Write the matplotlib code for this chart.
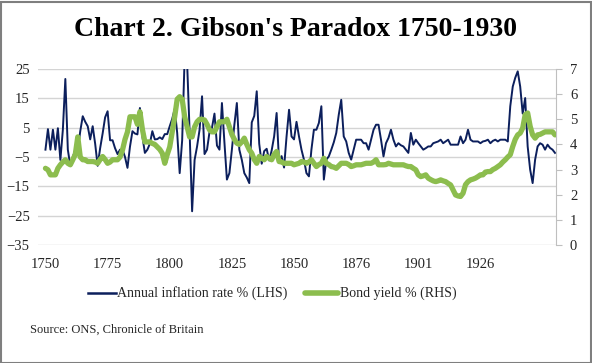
import numpy as np
import matplotlib
matplotlib.use("Agg")
import matplotlib.pyplot as plt
from matplotlib.lines import Line2D
from matplotlib.patches import Rectangle

plt.rcParams['font.family'] = ['Liberation Serif', 'DejaVu Serif']

#### Data (one value per category) ###################################
inflation = [
    -2.5, 4.5, -2.5, 4.3, -2.5, 4.8, -6, 4.3, 21.6, -2.5,
    -8, -5, -2.5, -2.5, 3.8, 8.9, 7, 5.5, 1, 5.5,
    -0.5, -8, -2, 3, 8.5, 10.6, 0.7, 0.7, -2, -4,
    -2.5, -2.5, -5, -8.7, -1.5, 3.8, 3, 2.7, 11.7, 2,
    -3.6, -2.5, -0.5, 3.8, 1, 1.1, 1.7, 1.1, 2.8, 2.8,
    5.5, 8, 11.4, 3.2, -10.5, 0.7, 29, 27, 3.5, -23.5,
    -6, -1.4, 4.3, 15.7, -4, -2.5, 3.5, 5, 9.8, -1.1,
    -2.5, 13.4, 0, -12.7, -10.5, -2.5, 6, 13.4, -2.5, -6,
    -10.5, -12, -13.9, 6.8, 9, 17.4, -0.5, -7.3, -3, -2.2,
    -6.2, -2.8, 2, 10, -7, -4.7, -8.6, 2, 11.1, 2,
    1, 7, 2, -2.5, -5.9, -10.5, -11.6, -2.5, 4.3, 4.3,
    6.6, 12.3, -12.7, -5.9, -4.8, -2.5, 0, 3.2, 9.4, 14.5,
    2, 0.3, -3.6, -5.9, -2.5, 0.9, 0.9, 0.9, -0.3, -0.3,
    -2.5, 0.9, 4.3, 6, 6, 0.9, -4.8, -0.3, 1.5, 4.3,
    0.9, -1.4, -0.3, -1, -1.4, -2.5, -3.6, 3.2, -0.8, 0.9,
    -0.3, -1.4, -2.5, -2, -1.4, -1.4, -0.3, 0, 0.3, 0.9,
    -0.3, 0.3, 0.9, -0.8, -0.8, -0.8, -0.8, 2, -0.3, 0.9,
    4.3, 0.9, 0.3, 0.3, 0.3, -0.3, 0.3, 0.5, 0.9, -0.3,
    0.5, 0.9, 0.3, 0.9, 0.9, 0.9, 0.3, 12.3, 19, 22,
    24.2, 19, 9.8, 15.1, -1.4, -9.3, -13.9, -5.9, -1.4, -0.3,
    -0.8, -2.5, -0.8, -1.9, -2.5, -3.6,
]
bond_yield = [
    3.05, 2.99, 2.79, 2.79, 2.79, 3.05, 3.19, 3.3, 3.39, 3.25,
    3.19, 3.39, 3.6, 4.3, 3.5, 3.39, 3.39, 3.32, 3.32, 3.32,
    3.3, 3.25, 3.4, 3.52, 3.4, 3.25, 3.3, 3.39, 3.39, 3.39,
    3.5, 3.78, 4.2, 4.5, 5.1, 5.1, 5.1, 4.8, 5.3, 4.6,
    4.1, 4.1, 4.1, 4.04, 4.0, 3.9, 3.8, 3.65, 3.25, 3.6,
    3.9, 4.5, 5.1, 5.8, 5.9, 5.8, 5.1, 4.7, 4.3, 4.3,
    4.7, 4.9, 5.0, 5.0, 4.97, 4.8, 4.58, 4.5, 4.5, 4.7,
    4.9, 4.9, 4.9, 5.0, 4.7, 4.4, 4.2, 4.05, 4.0, 4.1,
    4.25, 4.0, 3.79, 3.65, 3.4, 3.25, 3.52, 3.45, 3.39, 3.52,
    3.45, 3.39, 3.6, 3.72, 3.32, 3.3, 3.25, 3.25, 3.25, 3.25,
    3.19, 3.22, 3.25, 3.32, 3.3, 3.25, 3.3, 3.39, 3.25, 3.12,
    3.2, 3.25, 3.45, 3.25, 3.2, 3.12, 3.1, 3.05, 3.15, 3.25,
    3.25, 3.25, 3.2, 3.12, 3.15, 3.19, 3.19, 3.19, 3.22, 3.25,
    3.25, 3.25, 3.3, 3.39, 3.19, 3.19, 3.19, 3.2, 3.25, 3.22,
    3.19, 3.19, 3.19, 3.19, 3.19, 3.15, 3.12, 3.12, 3.05, 2.99,
    2.79, 2.72, 2.75, 2.79, 2.66, 2.6, 2.55, 2.52, 2.55, 2.59,
    2.55, 2.52, 2.45, 2.39, 2.19, 1.99, 1.95, 1.93, 2.06, 2.4,
    2.52, 2.59, 2.62, 2.66, 2.72, 2.79, 2.79, 2.9, 2.92, 2.92,
    3.0, 3.05, 3.12, 3.19, 3.3, 3.39, 3.5, 3.59, 3.92, 4.2,
    4.38, 4.45, 4.65, 5.18, 5.25, 4.72, 4.38, 4.25, 4.38, 4.4,
    4.45, 4.5, 4.5, 4.5, 4.5, 4.38,
]
year_labels = ['1750', '1775', '1800', '1825', '1850', '1876', '1901', '1926']
label_step = 25
left_ticks = [-35, -25, -15, -5, 5, 15, 25]
right_ticks = [0, 1, 2, 3, 4, 5, 6, 7]
######################################################################

navy = '#0c1f5c'
green = '#8cbd4e'
grid = '#d4d4d4'
txt = '#262626'

W, H = 592, 363
fig = plt.figure(figsize=(W/100, H/100), dpi=100)
fig.patch.set_facecolor('white')
fig.patches.append(Rectangle((0.5/W, 0.5/H), 1-2/W, 1-2/H, transform=fig.transFigure,
                             fill=False, edgecolor='#7f7f7f', lw=1.5))

x0, x1, ytop, ybot = 38, 556, 69, 245
ax = fig.add_axes([x0/W, 1-ybot/H, (x1-x0)/W, (ybot-ytop)/H])
x = np.arange(len(inflation))
ax.plot(x, inflation, color=navy, lw=1.4, zorder=3)
ax.set_ylim(-35, 25)
ax.set_yticks(left_ticks)
ax.set_xlim(-3.0, len(inflation) - 1 + 0.4)
ax.set_xticks(np.arange(len(year_labels)) * label_step)
ax.set_xticklabels(year_labels)
ax.grid(axis='y', color=grid, lw=1)
ax.set_axisbelow(True)
for s in ['left', 'top', 'right', 'bottom']:
    ax.spines[s].set_visible(False)
ax.tick_params(axis='both', length=0, labelsize=10.5, colors=txt)
ax.tick_params(axis='y', pad=6)
ax.tick_params(axis='x', pad=9)

ax2 = ax.twinx()
ax2.plot(x, bond_yield, color=green, lw=3.8, solid_capstyle='round', zorder=4)
ax2.set_ylim(0, 7)
ax2.set_yticks(right_ticks)
for s in ['left', 'top', 'bottom']:
    ax2.spines[s].set_visible(False)
ax2.spines['right'].set_color('#bfbfbf')
ax2.tick_params(axis='y', length=4, color='#bfbfbf', labelsize=10.5, labelcolor=txt, pad=6)

fig.text(0.5, 1-30/H, "Chart 2. Gibson's Paradox 1750-1930", ha='center', va='center',
         fontsize=20, fontweight='bold', color='black')

# legend drawn by hand so it sits where the original does
ly = 1-293/H
fig.add_artist(Line2D([88/W, 116/W], [ly, ly], color=navy, lw=1.8))
fig.text(117/W, ly, 'Annual inflation rate % (LHS)', ha='left', va='center',
         fontsize=10, color=txt)
fig.add_artist(Line2D([305/W, 338/W], [ly, ly], color=green, lw=4, solid_capstyle='round'))
fig.text(340/W, ly, 'Bond yield % (RHS)', ha='left', va='center',
         fontsize=10, color=txt)

fig.text(30/W, 1-330/H, 'Source: ONS, Chronicle of Britain', ha='left', va='center',
         fontsize=9, color=txt)

fig.savefig('out.png', dpi=100)
